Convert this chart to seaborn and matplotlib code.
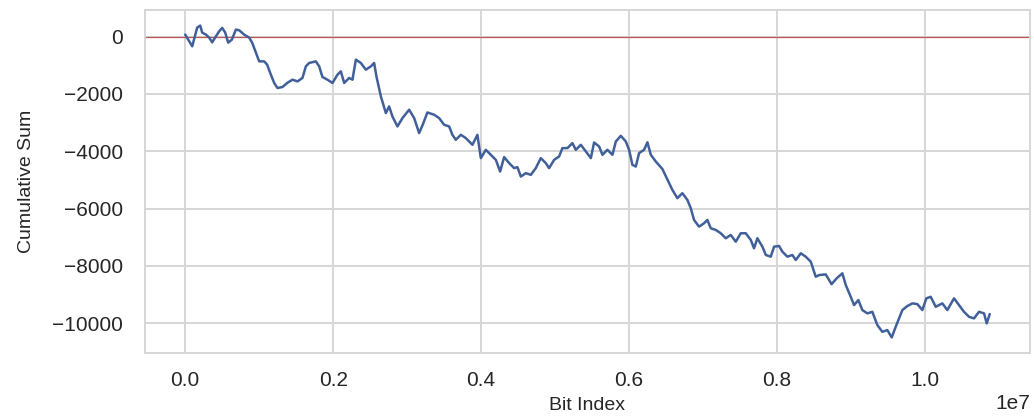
import matplotlib
matplotlib.use("Agg")
import matplotlib.pyplot as plt
import numpy as np
import pandas as pd
import seaborn as sns

# Cumulative sum of the +1/-1 bit walk, sampled along the bit stream
bit_index_millions = [
    0.000, 0.095, 0.162, 0.203, 0.230, 0.280, 0.324, 0.365, 0.415, 0.459,
    0.500, 0.541, 0.581, 0.631, 0.685, 0.730, 0.797, 0.865, 0.905, 0.955,
    1.000, 1.068, 1.108, 1.158, 1.203, 1.247, 1.315, 1.378, 1.450, 1.518,
    1.585, 1.631, 1.676, 1.766, 1.811, 1.855, 1.923, 1.991, 2.058, 2.104,
    2.149, 2.216, 2.261, 2.307, 2.374, 2.442, 2.510, 2.554, 2.585, 2.645,
    2.712, 2.757, 2.801, 2.869, 2.937, 3.027, 3.095, 3.162, 3.207, 3.274,
    3.365, 3.432, 3.500, 3.568, 3.612, 3.658, 3.726, 3.793, 3.883, 3.950,
    3.996, 4.064, 4.131, 4.199, 4.257, 4.311, 4.379, 4.446, 4.491, 4.537,
    4.604, 4.672, 4.739, 4.807, 4.874, 4.919, 4.987, 5.054, 5.099, 5.167,
    5.234, 5.280, 5.348, 5.415, 5.483, 5.527, 5.595, 5.640, 5.707, 5.775,
    5.821, 5.888, 5.956, 6.000, 6.045, 6.091, 6.135, 6.203, 6.248, 6.294,
    6.361, 6.450, 6.518, 6.585, 6.653, 6.720, 6.788, 6.834, 6.878, 6.946,
    7.014, 7.058, 7.104, 7.172, 7.239, 7.307, 7.374, 7.442, 7.510, 7.577,
    7.645, 7.689, 7.734, 7.802, 7.848, 7.915, 7.960, 8.027, 8.072, 8.140,
    8.207, 8.253, 8.321, 8.388, 8.456, 8.523, 8.570, 8.658, 8.737, 8.805,
    8.883, 8.929, 8.996, 9.041, 9.099, 9.153, 9.221, 9.288, 9.356, 9.423,
    9.491, 9.550, 9.604, 9.649, 9.694, 9.761, 9.829, 9.896, 9.964, 10.018,
    10.077, 10.145, 10.234, 10.302, 10.392, 10.460, 10.527, 10.595, 10.663, 10.730,
    10.798, 10.834, 10.875,
]
cumulative_sum = [
    70, -339, 315, 385, 140, 70, -35, -199, 10, 185,
    304, 140, -210, -105, 245, 220, 70, -35, -210, -559,
    -864, -864, -979, -1329, -1619, -1794, -1759, -1619, -1504, -1563,
    -1444, -1038, -920, -864, -1038, -1409, -1504, -1619, -1329, -1213,
    -1619, -1444, -1504, -804, -920, -1154, -1038, -920, -1388, -2087,
    -2668, -2437, -2787, -3136, -2843, -2552, -2843, -3367, -3100, -2647,
    -2727, -2843, -3077, -3136, -3427, -3601, -3427, -3542, -3776, -3427,
    -4241, -3951, -4126, -4301, -4710, -4206, -4416, -4591, -4556, -4885,
    -4766, -4825, -4591, -4241, -4416, -4591, -4301, -4185, -3892, -3892,
    -3717, -3951, -3776, -4010, -4241, -3696, -3836, -4126, -3951, -4126,
    -3661, -3462, -3661, -3951, -4476, -4535, -4066, -3951, -3690, -4126,
    -4360, -4620, -4990, -5350, -5640, -5465, -5699, -5990, -6399, -6633,
    -6514, -6399, -6689, -6748, -6864, -7039, -6923, -7157, -6864, -6864,
    -7098, -7388, -7039, -7332, -7622, -7682, -7332, -7308, -7507, -7682,
    -7622, -7797, -7563, -7682, -7857, -8381, -8322, -8300, -8640, -8440,
    -8262, -8672, -9081, -9371, -9196, -9545, -9661, -9605, -10070, -10304,
    -10245, -10500, -10129, -9836, -9545, -9406, -9311, -9336, -9545, -9136,
    -9081, -9430, -9311, -9545, -9136, -9371, -9605, -9780, -9836, -9605,
    -9661, -10010, -9685,
]

df = pd.DataFrame({
    "Bit Index": np.array(bit_index_millions) * 1e6,
    "Cumulative Sum": cumulative_sum,
})

sns.set_theme(style="whitegrid")
plt.rcParams["font.family"] = ["Liberation Sans", "DejaVu Sans"]

fig = plt.figure(figsize=(10.34, 4.16), dpi=100)
ax = fig.add_axes([0.1402, 0.1514, 0.8559, 0.8246])

sns.lineplot(data=df, x="Bit Index", y="Cumulative Sum", ax=ax,
             color="#41609a", linewidth=1.8)
ax.axhline(0, color="#b9403a", linewidth=0.9, alpha=0.85, zorder=1)

ax.set_xticks([0, 2e6, 4e6, 6e6, 8e6, 10e6])
ax.set_yticks([0, -2000, -4000, -6000, -8000, -10000])
ax.tick_params(axis="both", labelsize=15, length=0, colors="#262626")
ax.tick_params(axis="y", pad=16)
ax.tick_params(axis="x", pad=13)
ax.xaxis.get_offset_text().set_fontsize(15)

ax.set_xlabel("Bit Index", fontsize=14, labelpad=5, color="#262626")
ax.set_ylabel("Cumulative Sum", fontsize=14, labelpad=12, color="#262626")

for s in ax.spines.values():
    s.set_color("#d6d6d6")
    s.set_linewidth(1.4)
ax.grid(color="#d6d6d6", linewidth=1.4)

fig.savefig("out.png", dpi=100)
